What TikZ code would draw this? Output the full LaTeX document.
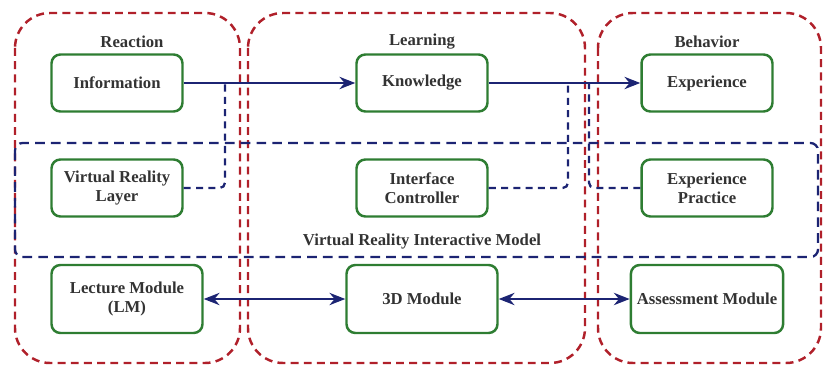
\documentclass[tikz,border=0pt]{standalone}
\usepackage{fontspec}
\setmainfont{Liberation Serif}
\usetikzlibrary{arrows.meta}
\definecolor{stagered}{HTML}{B0202A}
\definecolor{linknavy}{HTML}{1C2473}
\definecolor{boxgreen}{HTML}{2E7D32}
\definecolor{txtgray}{HTML}{333333}
\tikzset{
  stage/.style={draw=stagered,line width=1.4pt,dash pattern=on 4.5pt off 3pt,rounded corners=0.7cm},
  model/.style={draw=linknavy,line width=1.3pt,dash pattern=on 5.5pt off 3.5pt,rounded corners=0.15cm},
  block/.style={draw=boxgreen,line width=1.4pt,fill=white,rounded corners=5pt,align=center,
    minimum width=2.62cm,minimum height=1.14cm,text=txtgray,font=\fontsize{9.5}{11}\selectfont\bfseries},
  wide/.style={minimum width=3.02cm,minimum height=1.36cm},
  title/.style={text=txtgray,font=\fontsize{9.5}{11}\selectfont\bfseries},
  flow/.style={draw=linknavy,line width=1.2pt,-{Stealth[length=9pt,width=7pt]}},
  both/.style={draw=linknavy,line width=1.2pt,{Stealth[length=9pt,width=7pt]}-{Stealth[length=9pt,width=7pt]}},
  dlink/.style={draw=linknavy,line width=1.3pt,dash pattern=on 4pt off 3pt,rounded corners=3pt}
}
\begin{document}
\begin{tikzpicture}[x=0.02cm,y=-0.02cm]
	\useasboundingbox (0,0) rectangle (825,372);
	% Stages
	\draw[stage] (15,13) rectangle (240,363);
	\draw[stage] (248,13) rectangle (585,363);
	\draw[stage] (598,13) rectangle (821,363);
	\node[title] (reaction) at (132,42) {Reaction};
	\node[title] (learning) at (422,42) {Learning};
	\node[title] (behavior) at (707,42) {Behavior};
	% Interactive model
	\draw[model] (15,143) rectangle (818,257);
	\node[title] (vrim) at (422,242) {Virtual Reality Interactive Model};
	% Top row
	\node[block] (info) at (117,83) {Information};
	\node[block] (know) at (422,83) {Knowledge};
	\node[block] (exper) at (707,83) {Experience};
	% Middle row
	\node[block] (vrl) at (117,188) {Virtual Reality\\Layer};
	\node[block] (ictl) at (422,188) {Interface\\Controller};
	\node[block] (expr) at (707,188) {Experience\\Practice};
	% Bottom row
	\node[block,wide] (lm) at (127,299) {Lecture Module\\(LM)};
	\node[block,wide] (mod3d) at (422,299) {3D Module};
	\node[block,wide] (asm) at (707,299) {Assessment Module};
	% Flow
	\draw[flow] (info) -- (know);
	\draw[flow] (know) -- (exper);
	\draw[both] (lm) -- (mod3d);
	\draw[both] (mod3d) -- (asm);
	% Dashed joins
	\coordinate (j1) at (225,83);
	\coordinate (j2) at (568,83);
	\coordinate (j3) at (589,83);
	\draw[dlink] (vrl) -| (j1);
	\draw[dlink] (ictl) -| (j2);
	\draw[dlink] (expr) -| (j3);
\end{tikzpicture}
\end{document}
